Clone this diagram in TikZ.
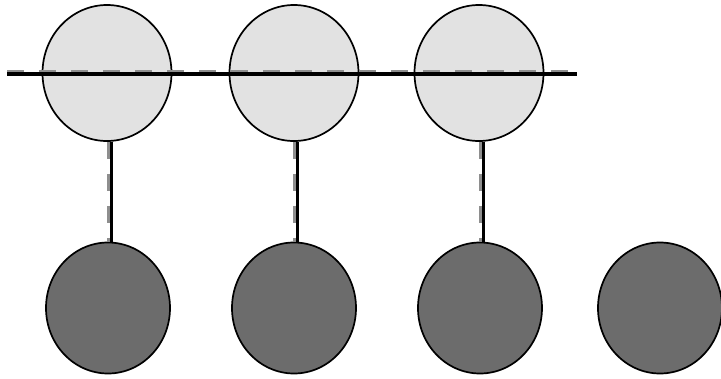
\documentclass[tikz,border=0pt]{standalone}
\usetikzlibrary{shapes.geometric}
\definecolor{lightball}{HTML}{E2E2E2}
\definecolor{darkball}{HTML}{6C6C6C}
\definecolor{dashgray}{HTML}{8E8E8E}
\begin{document}
\begin{tikzpicture}[x=1pt,y=-1pt,
  lightnode/.style={ellipse,draw=black,line width=1.7pt,fill=lightball,minimum width=129pt,minimum height=136pt,inner sep=0pt},
  darknode/.style={ellipse,draw=black,line width=1.7pt,fill=darkball,minimum width=124pt,minimum height=131pt,inner sep=0pt},
  mainline/.style={line width=3.4pt,black},
  dashline/.style={line width=2.6pt,dashgray,dash pattern=on 17pt off 15pt}]
\useasboundingbox (0,0) rectangle (721,378);
\fill[white] (0,0) rectangle (721,378);
\node[lightnode] (l1) at (107,73) {};
\node[lightnode] (l2) at (294,73) {};
\node[lightnode] (l3) at (479,73) {};
\node[darknode] (d1) at (108,308) {};
\node[darknode] (d2) at (294,308) {};
\node[darknode] (d3) at (480,308) {};
\node[darknode] (d4) at (660,308) {};
\coordinate (hl) at (7,74);
\coordinate (hr) at (577,74);
\coordinate (hld) at (7,71.5);
\coordinate (hrd) at (577,71.5);
\draw[dashline] (hld) -- (hrd);
\draw[mainline] (hl) -- (hr);
\foreach \i/\x/\xd in {1/111/108.5,2/297/294.5,3/483/480.5}{
  \draw[dashline] (\xd,0 |- l\i.south) -- (\xd,0 |- d\i.north);
  \draw[mainline,line width=3pt] (\x,0 |- l\i.south) -- (\x,0 |- d\i.north);
}
\end{tikzpicture}
\end{document}
